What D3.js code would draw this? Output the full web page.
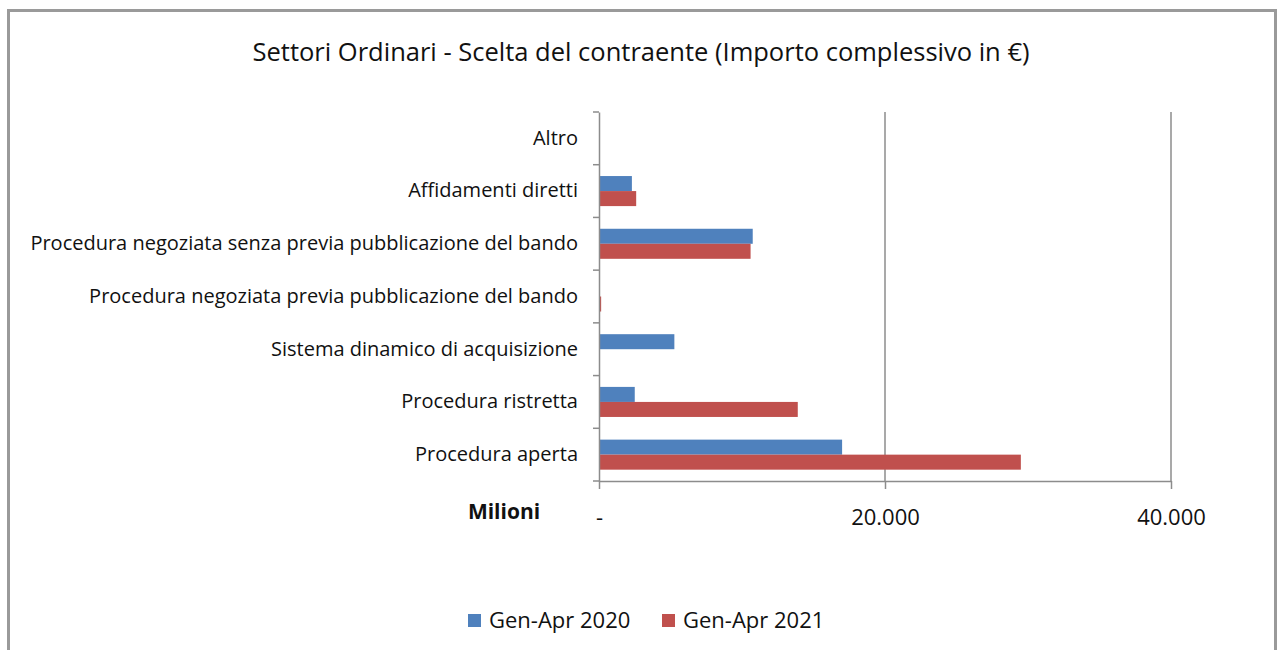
<!DOCTYPE html>
<meta charset="utf-8">
<script src="https://d3js.org/d3.v7.min.js"></script>
<style>
body { margin: 0; background: #fff; }
text { font-family: "Open Sans", sans-serif; fill: #111; }
</style>
<body>
<script>

// data (milioni di euro)
var categories = ["Altro", "Affidamenti diretti",
  "Procedura negoziata senza previa pubblicazione del bando",
  "Procedura negoziata previa pubblicazione del bando",
  "Sistema dinamico di acquisizione", "Procedura ristretta", "Procedura aperta"];
var seriesNames = ["Gen-Apr 2020", "Gen-Apr 2021"];
var values2020 = [0, 2300, 10750, 0, 5270, 2500, 17000];
var values2021 = [0, 2600, 10600, 150, 0, 13900, 29500];
var tickValues = [0, 20000, 40000];
var tickLabels = ["-", "20.000", "40.000"];
var colors = ["#4f81bd", "#c0504d"];

var W = 1282, H = 650;
var margin = {top: 112, right: 111, bottom: 169, left: 599};
var width = W - margin.left - margin.right;
var height = H - margin.top - margin.bottom;

var svg = d3.select("body").append("svg")
  .attr("width", W).attr("height", H);

// outer frame
svg.append("rect")
  .attr("x", 8.5).attr("y", 10.5).attr("width", 1267).attr("height", 660)
  .attr("fill", "none").attr("stroke", "#9a9a9a").attr("stroke-width", 3);

svg.append("text")
  .attr("x", 641).attr("y", 61)
  .attr("text-anchor", "middle")
  .attr("textLength", 777).attr("lengthAdjust", "spacingAndGlyphs")
  .style("font-size", "26px")
  .text("Settori Ordinari - Scelta del contraente (Importo complessivo in €)");

var g = svg.append("g")
  .attr("transform", "translate(" + margin.left + "," + margin.top + ")");

var xScale = d3.scaleLinear().domain([0, 40000]).range([0, width]);
var yScale = d3.scaleBand().domain(categories).range([0, height]);
var inner = d3.scaleBand().domain(seriesNames)
  .range([yScale.bandwidth() * 0.215, yScale.bandwidth() * 0.785]);

// gridlines
g.selectAll(".grid")
  .data(tickValues.slice(1))
  .enter().append("line")
  .attr("x1", function(d) { return xScale(d); })
  .attr("x2", function(d) { return xScale(d); })
  .attr("y1", 0).attr("y2", height)
  .attr("stroke", "#8c8c8c").attr("stroke-width", 1.5);

// bars
var rows = categories.map(function(c, i) {
  return {cat: c, vals: [values2020[i], values2021[i]]};
});
var row = g.selectAll(".row")
  .data(rows)
  .enter().append("g")
  .attr("transform", function(d) { return "translate(0," + yScale(d.cat) + ")"; });

row.selectAll("rect")
  .data(function(d) { return d.vals.map(function(v, j) { return {s: seriesNames[j], v: v, j: j}; }); })
  .enter().append("rect")
  .attr("x", 0)
  .attr("y", function(d) { return inner(d.s); })
  .attr("width", function(d) { return xScale(d.v); })
  .attr("height", inner.bandwidth())
  .attr("fill", function(d) { return colors[d.j]; });

// x axis
var xAxis = g.append("g")
  .attr("transform", "translate(0," + height + ")")
  .call(d3.axisBottom(xScale).tickValues(tickValues)
    .tickFormat(function(d, i) { return tickLabels[i]; })
    .tickSizeInner(8).tickSizeOuter(0).tickPadding(20));
xAxis.select(".domain").attr("stroke", "#8c8c8c").attr("stroke-width", 1.5);
xAxis.selectAll(".tick line").attr("stroke", "#8c8c8c").attr("stroke-width", 1.5);
xAxis.selectAll("text").style("font-size", "22px").attr("fill", "#111");

// y axis: ticks at band boundaries
var yAxis = g.append("g")
  .call(d3.axisLeft(yScale).tickSize(0).tickPadding(21));
yAxis.select(".domain").attr("stroke", "#8c8c8c").attr("stroke-width", 1.5);
yAxis.selectAll("text").style("font-size", "20px").attr("fill", "#111");
var bounds = categories.map(function(c) { return yScale(c); }).concat([height]);
g.selectAll(".ytick")
  .data(bounds)
  .enter().append("line")
  .attr("x1", -6).attr("x2", 0)
  .attr("y1", function(d) { return d; }).attr("y2", function(d) { return d; })
  .attr("stroke", "#8c8c8c").attr("stroke-width", 1.5);

svg.append("text")
  .attr("x", 504).attr("y", 519)
  .attr("text-anchor", "middle")
  .style("font-size", "21px").style("font-weight", "bold")
  .text("Milioni");

// legend
var legend = svg.append("g").attr("transform", "translate(468,612)");
var lx = [0, 194];
seriesNames.forEach(function(s, i) {
  legend.append("rect")
    .attr("x", lx[i]).attr("y", 2).attr("width", 13).attr("height", 13)
    .attr("fill", colors[i]);
  legend.append("text")
    .attr("x", lx[i] + 21).attr("y", 16)
    .style("font-size", "22px")
    .text(s);
});

</script>
</body>
